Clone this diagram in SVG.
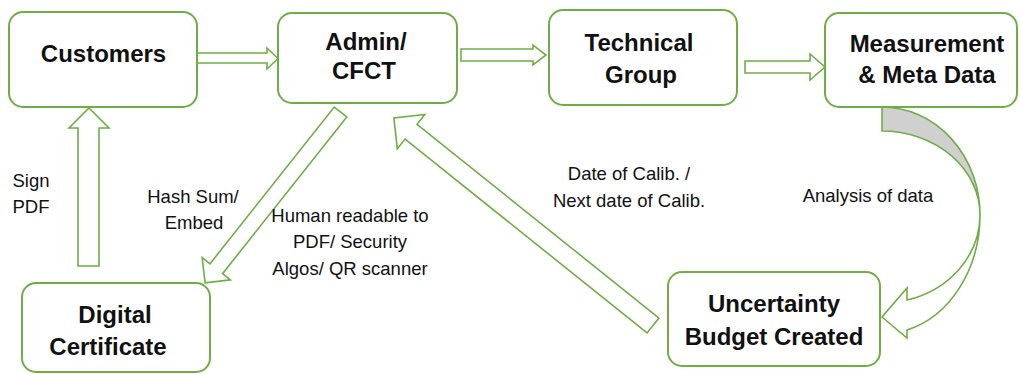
<svg xmlns="http://www.w3.org/2000/svg" width="1021" height="374" viewBox="0 0 1021 374">
<style>
.box{fill:#fff;stroke:#70ad47;stroke-width:2}
.arr{fill:#fff;stroke:#70ad47;stroke-width:1.6;stroke-linejoin:miter}
.t{font-family:"Liberation Sans",Arial,sans-serif;font-weight:bold;font-size:24px;fill:#111;text-anchor:middle}
.l{font-family:"Liberation Sans",Arial,sans-serif;font-size:18.5px;fill:#111;text-anchor:middle}
</style>
<rect width="1021" height="374" fill="#fff"/>
<g id="connectors">
<polygon class="arr" points="194,53 267,53 267,48 278,58.5 267,69 267,63 194,63"/>
<polygon class="arr" points="461,49 533,49 533,45 546,55 533,65 533,61 461,61"/>
<polygon class="arr" points="745,61 810,61 810,54 825,67 810,80 810,73 745,73"/>
<polygon class="arr" points="89,108 109,128 99,128 99,266 78,266 78,128 69,128"/>
<polygon class="arr" transform="translate(340.5,112) rotate(128.4)" points="0,-8 200,-8 200,-18 218,0 200,18 200,8 0,8"/>
<polygon class="arr" transform="translate(653,325.5) rotate(-141.3)" points="0,-9.5 310,-9.5 310,-22 332,0 310,22 310,9.5 0,9.5"/>
<path class="arr" style="fill:#d0d0d0" d="M882,107 A98 108 0 0 1 980,215 A98 84 0 0 0 882,131 Z"/>
<path class="arr" d="M980,215 A98 119 0 0 1 907,330 L907,338 L882,317 L907,288 L907,300 A98 88 0 0 0 980,215 Z"/>
</g>
<g id="customers"><rect class="box" x="9" y="12" width="188" height="95" rx="14"/><text class="t" x="103.5" y="62" font-size="25">Customers</text></g>
<g id="admin"><rect class="box" x="278" y="13" width="179" height="90" rx="14"/><text class="t" x="366" y="50">Admin/</text><text class="t" x="364" y="79">CFCT</text></g>
<g id="technical"><rect class="box" x="549" y="10" width="188" height="95" rx="14"/><text class="t" x="639" y="51">Technical</text><text class="t" x="641" y="83">Group</text></g>
<g id="measurement"><rect class="box" x="825" y="13" width="192" height="94" rx="14"/><text class="t" x="927" y="52">Measurement</text><text class="t" x="927" y="83">&amp; Meta Data</text></g>
<g id="digital"><rect class="box" x="22" y="283" width="188" height="89" rx="14"/><text class="t" x="115" y="323">Digital</text><text class="t" x="108" y="355">Certificate</text></g>
<g id="uncertainty"><rect class="box" x="668" y="272" width="212" height="94" rx="14"/><text class="t" x="774" y="312">Uncertainty</text><text class="t" x="774" y="345">Budget Created</text></g>
<g id="labels">
<text class="l" x="31" y="187">Sign</text><text class="l" x="31" y="213">PDF</text>
<text class="l" x="193" y="203">Hash Sum/</text><text class="l" x="194" y="229">Embed</text>
<text class="l" x="350" y="222">Human readable to</text><text class="l" x="350" y="248">PDF/ Security</text><text class="l" x="350" y="275">Algos/ QR scanner</text>
<text class="l" x="629" y="180">Date of Calib. /</text><text class="l" x="629" y="207">Next date of Calib.</text>
<text class="l" x="868" y="202">Analysis of data</text>
</g>
</svg>
